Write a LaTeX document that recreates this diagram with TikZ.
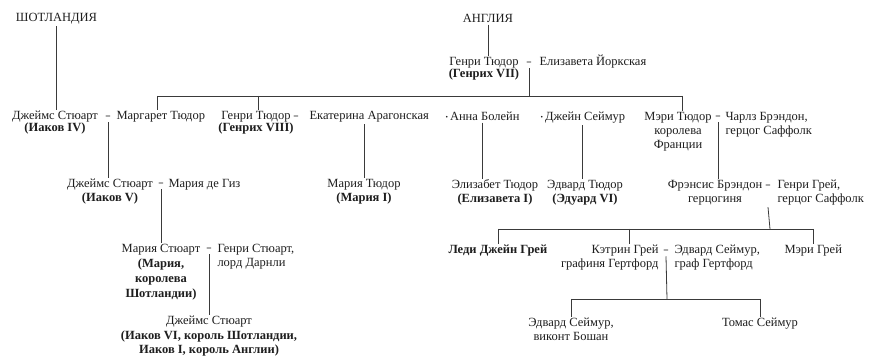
\documentclass[tikz,border=0pt]{standalone}
\usepackage{fontspec}
\setmainfont{Liberation Serif}
\usetikzlibrary{calc}
\definecolor{txt}{HTML}{1E1E1E}
\definecolor{ln}{HTML}{3A3A3A}
\tikzset{
  person/.style={inner sep=0pt, outer sep=1.5pt, text=txt, font=\fontsize{12.5}{14}\selectfont},
  marr/.style={inner sep=0pt, outer sep=4pt, text=txt, font=\bfseries\fontsize{9}{9}\selectfont},
  link/.style={draw=ln, line width=0.8pt},
}
\newcommand{\dotmark}{{\fontsize{7}{7}\selectfont\raisebox{0.35ex}{•}}\,}
\newcommand{\wedsign}{\scalebox{1.05}[0.6]{=}}
\begin{document}
\begin{tikzpicture}[x=1pt,y=-1pt]
\useasboundingbox[fill=white] (0,0) rectangle (871,363);

% ---- headings
\node[person, anchor=base] (scot) at (56.5,22) {ШОТЛАНДИЯ};
\node[person, anchor=base] (eng) at (488,23) {АНГЛИЯ};

% ---- generation 1 (multi-line nodes are placed by the baseline of their last line)
\node[person, anchor=base, align=center] (h7) at (484,77.5) {Генри Тюдор\\[-2.5pt]\textbf{(Генрих VII)}};
\node[marr] (m1) at (529,63) {\wedsign};
\node[person, anchor=base west] (eyork) at (538,66) {Елизавета Йоркская};

% ---- generation 2
\node[person, anchor=base, align=center] (j4) at (55,131.5) {Джеймс Стюарт\\[-2.5pt]\textbf{(Иаков IV)}};
\node[marr] (m2) at (108,117) {\wedsign};
\node[person, anchor=base west] (marg) at (115,120) {Маргарет Тюдор};
\node[person, anchor=base, align=center] (h8) at (256,131.5) {Генри Тюдор\\[-2.5pt]\textbf{(Генрих VIII)}};
\node[marr] (m3) at (296,117) {\wedsign};
\node[person, anchor=base west] (cath) at (308,120) {Екатерина Арагонская};
\node[person, anchor=base west] (anne) at (444,121) {\dotmark Анна Болейн};
\node[person, anchor=base west] (jane) at (539,121) {\dotmark Джейн Сеймур};
\node[person, anchor=base, align=center] (maryt) at (678,149) {Мэри Тюдор\\королева\\Франции};
\node[marr] (m4) at (718,117) {\wedsign};
\node[person, anchor=base west, align=left] (brandon) at (724,135) {Чарлз Брэндон,\\герцог Саффолк};

% ---- generation 3
\node[person, anchor=base, align=center] (j5) at (110,202) {Джеймс Стюарт\\\textbf{(Иаков V)}};
\node[marr] (m5) at (161,184) {\wedsign};
\node[person, anchor=base west] (guise) at (167,188) {Мария де Гиз};
\node[person, anchor=base, align=center] (mary1) at (364,202) {Мария Тюдор\\\textbf{(Мария I)}};
\node[person, anchor=base, align=center] (eliz) at (495,203) {Элизабет Тюдор\\\textbf{(Елизавета I)}};
\node[person, anchor=base, align=center] (edw6) at (585,203) {Эдвард Тюдор\\\textbf{(Эдуард VI)}};
\node[person, anchor=base, align=center] (frances) at (715,203) {Фрэнсис Брэндон\\герцогиня};
\node[marr] (m7) at (768,186) {\wedsign};
\node[person, anchor=base west, align=left] (hgrey) at (776,203) {Генри Грей,\\герцог Саффолк};

% ---- generation 4
\node[person, anchor=base, align=center] (mstuart) at (161,298) {Мария Стюарт\\[1pt]\textbf{(Мария,}\\[1pt]\textbf{королева}\\[1pt]\textbf{Шотландии)}};
\node[marr] (m6) at (209,249) {\wedsign};
\node[person, anchor=base west, align=left] (darnley) at (216,267) {Генри Стюарт,\\лорд Дарнли};
\node[person, anchor=base west] (jgrey) at (447,254) {\textbf{Леди Джейн Грей}};
\node[person, anchor=base east, align=right] (kgrey) at (660,268) {Кэтрин Грей\\графиня Гертфорд};
\node[marr] (m8) at (666,251) {\wedsign};
\node[person, anchor=base west, align=left] (eseym) at (673,268) {Эдвард Сеймур,\\граф Гертфорд};
\node[person, anchor=base west] (mgrey) at (783,254) {Мэри Грей};

% ---- generation 5
\node[person, anchor=base, align=center] (j6) at (209,354) {Джеймс Стюарт\\[0.5pt]\textbf{(Иаков VI, король Шотландии,}\\[0.5pt]\textbf{Иаков I, король Англии)}};
\node[person, anchor=base, align=center] (beau) at (571,341) {Эдвард Сеймур,\\виконт Бошан};
\node[person, anchor=base] (thomas) at (760,327) {Томас Сеймур};

% ---- junction coordinates
\coordinate (bL) at (157,96);
\coordinate (bH) at (258,96);
\coordinate (bM) at (529,96);
\coordinate (bR) at (682,96);
\coordinate (gT) at (770,229);
\coordinate (gL) at (498,229);
\coordinate (gK) at (629,229);
\coordinate (gR) at (813,229);
\coordinate (sT) at (667,299);
\coordinate (sL) at (571,299);
\coordinate (sR) at (760,299);

% ---- connectors
\draw[link] (scot.south) -- (scot.south |- j4.north);
\draw[link] (eng.south) -- (eng.south |- h7.north);

\draw[link] (m1.south) -- (bM);
\draw[link] (bL) -- (bR);
\draw[link] (bL) -- (bL |- marg.north);
\draw[link] (bH) -- (bH |- h8.north);
\draw[link] (bR) -- (bR |- maryt.north);

\draw[link] (m2.south) -- (m2.south |- j5.north);
\draw[link] (mary1.north |- cath.south) -- (mary1.north);
\draw[link] (anne.south) -- (anne.south |- eliz.north);
\draw[link] (jane.south) -- (jane.south |- edw6.north);
\draw[link] (m4.south) -- (m4.south |- frances.north);

\draw[link] (m5.south) -- (m5.south |- mstuart.north);
\draw[link] (m7 |- frances.south) -- (gT);
\draw[link] (gL) -- (gR);
\draw[link] (gL) -- (gL |- jgrey.north);
\draw[link] (gK) -- (gK |- kgrey.north);
\draw[link] (gR) -- (gR |- mgrey.north);

\draw[link] (m6.south) -- (m6.south |- j6.north);
\draw[link] (m8.south) -- (sT);
\draw[link] (sL) -- (sR);
\draw[link] (sL) -- (sL |- beau.north);
\draw[link] (sR) -- (sR |- thomas.north);
\end{tikzpicture}
\end{document}
